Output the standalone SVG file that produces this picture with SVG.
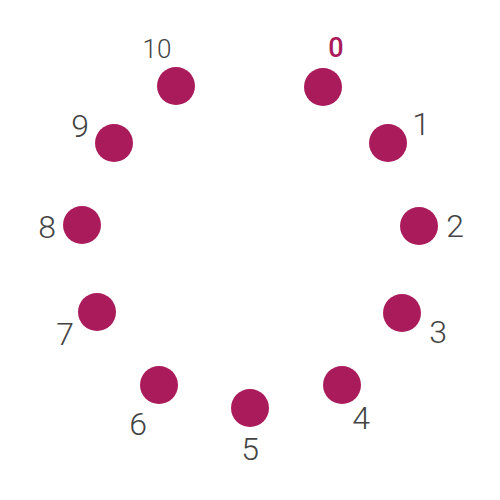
<svg xmlns="http://www.w3.org/2000/svg" width="500" height="500" viewBox="0 0 500 500">
<style>
.dot{fill:#aa1b5b}
.lbl{font-family:Roboto,"Open Sans",sans-serif;font-size:32px;font-weight:300;fill:#444;text-anchor:middle}
.small{font-size:26px}
.hi{fill:#aa1b5b;font-weight:500;font-size:27px}
</style>
<rect width="500" height="500" fill="#fff"/>
<g id="connectors"></g>
<g id="n0"><circle class="dot" cx="323" cy="87" r="19"/><text class="lbl hi" x="336" y="57">0</text></g>
<g id="n1"><circle class="dot" cx="388" cy="143" r="19"/><text class="lbl" x="421" y="135">1</text></g>
<g id="n2"><circle class="dot" cx="419" cy="226" r="19"/><text class="lbl" x="455" y="237">2</text></g>
<g id="n3"><circle class="dot" cx="402" cy="313" r="19"/><text class="lbl" x="438" y="343">3</text></g>
<g id="n4"><circle class="dot" cx="342" cy="385" r="19"/><text class="lbl" x="361" y="429">4</text></g>
<g id="n5"><circle class="dot" cx="250" cy="408" r="19"/><text class="lbl" x="250" y="460">5</text></g>
<g id="n6"><circle class="dot" cx="159" cy="385" r="19"/><text class="lbl" x="138" y="435">6</text></g>
<g id="n7"><circle class="dot" cx="97" cy="312" r="19"/><text class="lbl" x="65" y="345">7</text></g>
<g id="n8"><circle class="dot" cx="82" cy="225" r="19"/><text class="lbl" x="47" y="238">8</text></g>
<g id="n9"><circle class="dot" cx="114" cy="143" r="19"/><text class="lbl" x="80" y="137">9</text></g>
<g id="n10"><circle class="dot" cx="176" cy="86" r="19"/><text class="lbl small" x="157" y="58">10</text></g>
</svg>
